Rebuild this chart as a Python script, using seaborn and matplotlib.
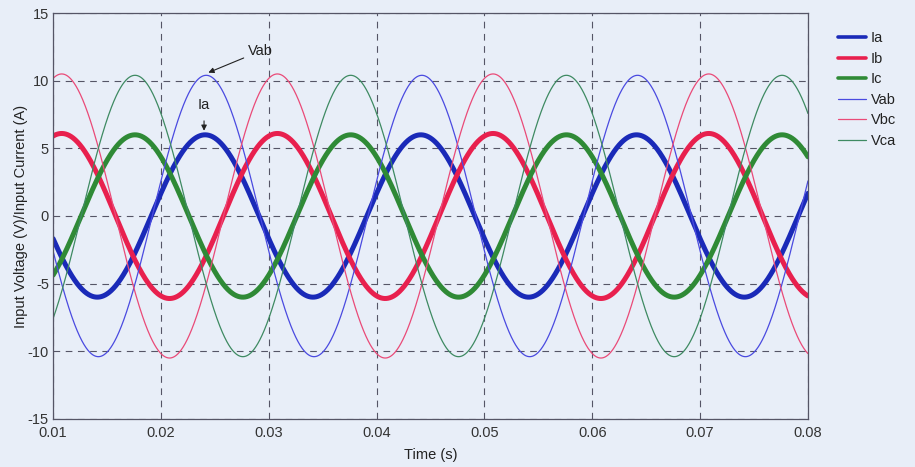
import numpy as np
import pandas as pd
import matplotlib
matplotlib.use("Agg")
import matplotlib.pyplot as plt
import seaborn as sns

# Three-phase rectifier input waveforms (50 Hz supply)
series_names = ["Ia", "Ib", "Ic", "Vab", "Vbc", "Vca"]
amplitudes = [6.0, 6.1, 6.0, 10.4, 10.5, 10.4]          # A for currents, V for voltages
peak_times = [0.0241, 0.0108, 0.0176, 0.0242, 0.0108, 0.0176]  # time of a positive peak (s)
supply_freq = 50.0                                        # Hz
series_colors = ["#1a2ab8", "#e8204e", "#2f8a36", "#4a4ae0", "#ea4a78", "#3e8a62"]
series_widths = [3.6, 3.6, 3.6, 0.9, 0.9, 0.9]

x_ticks = [0.01, 0.02, 0.03, 0.04, 0.05, 0.06, 0.07, 0.08]
y_ticks = [-15, -10, -5, 0, 5, 10, 15]

t = np.linspace(0.01, 0.08, 3000)
frames = []
for name, amp, tp in zip(series_names, amplitudes, peak_times):
    frames.append(pd.DataFrame({
        "Time (s)": t,
        "value": amp * np.cos(2 * np.pi * supply_freq * (t - tp)),
        "signal": name,
    }))
data = pd.concat(frames, ignore_index=True)

sns.set_theme(style="white")
plt.rcParams["font.family"] = ["Liberation Sans", "DejaVu Sans"]

bg = "#e8eef8"
fig = plt.figure(figsize=(9.15, 4.67), dpi=100, facecolor=bg)
ax = fig.add_axes([0.058, 0.103, 0.825, 0.869])
ax.set_facecolor(bg)

for name, col, lw in zip(series_names, series_colors, series_widths):
    sns.lineplot(data=data[data["signal"] == name], x="Time (s)", y="value",
                 color=col, linewidth=lw, label=name, ax=ax, estimator=None)

ax.set_xlim(0.01, 0.08)
ax.set_ylim(-15, 15)
ax.set_xticks(x_ticks)
ax.set_xticklabels([f"{v:g}" for v in x_ticks])
ax.set_yticks(y_ticks)
ax.set_yticklabels([str(v) for v in y_ticks])
ax.tick_params(axis="both", direction="in", length=4, labelsize=10.5,
               colors="#333333", pad=3)
ax.tick_params(axis="x", pad=5)
ax.grid(True, linestyle=(0, (6, 5)), color="#555566", linewidth=0.8)
for sp in ax.spines.values():
    sp.set_color("#555566")
    sp.set_linewidth(0.9)

ax.set_xlabel("Time (s)", fontsize=10.5, color="#222222", labelpad=6)
ax.set_ylabel("Input Voltage (V)/Input Current (A)", fontsize=10.5,
              color="#222222", labelpad=0)

ax.annotate("Vab", xy=(0.0244, 10.6), xytext=(0.0281, 12.2),
            fontsize=10.5, color="#222222", va="center", ha="left",
            arrowprops=dict(arrowstyle="-|>", color="#222222", lw=0.8,
                            mutation_scale=8, shrinkA=1, shrinkB=0))
ax.annotate("Ia", xy=(0.0240, 6.3), xytext=(0.0240, 8.2),
            fontsize=10.5, color="#222222", va="center", ha="center",
            arrowprops=dict(arrowstyle="-|>", color="#222222", lw=0.8,
                            mutation_scale=8, shrinkA=4, shrinkB=0))

leg = ax.legend(loc="upper left", bbox_to_anchor=(1.032, 0.97), frameon=False,
                fontsize=10.5, handlelength=1.9, handletextpad=0.35,
                labelspacing=0.45, borderaxespad=0)
for line in leg.get_lines()[:3]:
    line.set_linewidth(2.6)
for text in leg.get_texts():
    text.set_color("#222222")

fig.savefig("out.png", dpi=100, facecolor=bg)
